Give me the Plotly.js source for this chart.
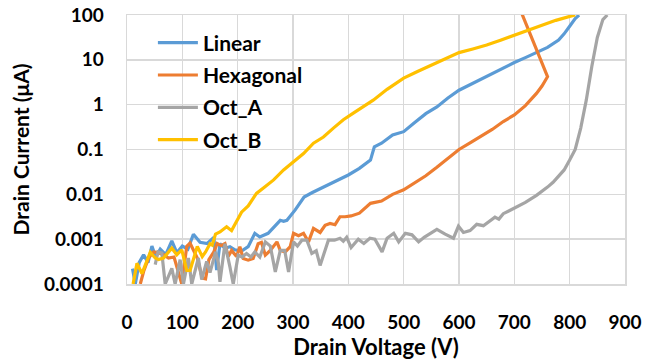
<!DOCTYPE html>
<html>
<head>
<meta charset="utf-8">
<script src="https://cdn.plot.ly/plotly-3.0.1.min.js"></script>
<style>html,body{margin:0;padding:0;background:#fff;}#chart{width:646px;height:363px;}</style>
</head>
<body>
<div id="chart"></div>
<script>
const seriesNames = ['Linear', 'Hexagonal', 'Oct_A', 'Oct_B'];

const linearV = [10,15,22,30,38,45,52,60,70,81,90,100,110,120,132,145,157,162,168,177,186,195,207,219,231,240,255,268,277,283,289,304,320,335,350,365,380,400,420,440,447,460,480,500,520,540,560,580,600,620,640,660,680,700,720,740,760,780,790,800,810,817];
const linearI = [0.00022,0.0001,0.0003,0.00045,0.0003,0.0007,0.0004,0.0006,0.00045,0.00091,0.0005,0.0007,0.0006,0.00129,0.00085,0.0008,0.0011,0.000204,0.00079,0.00063,0.00068,0.00058,0.00054,0.00068,0.00135,0.00112,0.00135,0.00204,0.00263,0.0025,0.00263,0.0045,0.0087,0.011,0.0135,0.017,0.021,0.027,0.038,0.058,0.115,0.138,0.21,0.25,0.4,0.63,0.89,1.41,2.1,2.8,3.7,5.0,6.6,8.7,11.2,14.8,19,27.5,38,56,83,100];

const hexV = [24,30,39,48,57,66,75,85,99,108,114,127,136,142,148,157,163,170,177,183,189,198,204,210,219,228,237,243,250,259,271,277,286,295,301,310,319,328,337,349,358,367,376,385,394,405,420,440,460,480,500,520,540,560,580,600,620,640,660,680,700,720,740,750,760,712];
const hexI = [0.0001,0.00019,0.00038,0.00052,0.0005,0.00045,0.00038,0.0004,0.0001,0.00069,0.00081,0.00038,0.000135,0.00013,0.00035,0.00052,0.0008,0.00072,0.0008,0.00041,0.00056,0.00041,0.00068,0.00037,0.00034,0.00037,0.00079,0.00085,0.00044,0.00056,0.00087,0.00056,0.00052,0.00068,0.00135,0.0012,0.00135,0.00087,0.00174,0.00141,0.00204,0.00224,0.0021,0.00316,0.00316,0.0033,0.0038,0.0063,0.0071,0.01,0.0126,0.0178,0.026,0.04,0.063,0.1,0.141,0.2,0.28,0.42,0.59,0.95,1.78,2.6,4.2,120];

const octAV = [51,56,63,69,81,87,96,102,111,117,129,135,144,150,160,165,168,177,186,192,201,208,216,224,231,240,250,259,268,277,285,292,301,308,316,325,334,342,349,358,364,375,385,391,397,405,418,428,439,448,461,470,482,491,503,515,527,537,548,560,575,590,599,608,620,632,644,656,665,672,680,689,700,720,740,750,760,770,780,790,800,810,820,830,840,850,860,868];
const octAI = [0.00027,0.00052,0.00049,0.0001,0.000224,0.0001,0.00035,0.0001,0.00038,0.0001,0.00038,0.000126,0.00032,0.00018,0.00052,0.0003,0.000112,0.00079,0.00024,0.0001,0.00044,0.0004,0.00048,0.0004,0.00052,0.0004,0.00087,0.0007,0.000186,0.00056,0.00056,0.000186,0.00087,0.0007,0.00095,0.00095,0.00048,0.00055,0.00026,0.0006,0.00095,0.00095,0.00105,0.0009,0.0011,0.00065,0.001,0.0008,0.00105,0.001,0.00052,0.00105,0.00135,0.00087,0.00135,0.00125,0.00087,0.0011,0.00135,0.00166,0.0013,0.00105,0.00195,0.00141,0.00155,0.00214,0.002,0.00257,0.0031,0.0028,0.0037,0.0042,0.0049,0.0066,0.0095,0.0115,0.0145,0.0186,0.025,0.035,0.058,0.1,0.3,1.26,7.1,31.6,79,100];

const octBV = [11,18,27,42,51,57,66,81,90,99,108,114,127,136,142,150,154,160,168,180,189,198,207,219,234,250,265,283,301,319,337,355,373,391,409,427,445,470,500,525,550,575,600,625,650,675,700,725,750,775,800,810];
const octBI = [0.0001,0.00029,0.00017,0.00051,0.00038,0.00035,0.00038,0.00063,0.00045,0.00058,0.0002,0.0002,0.00069,0.00041,0.00052,0.00079,0.00074,0.0013,0.00145,0.0019,0.00155,0.00245,0.004,0.0055,0.0105,0.015,0.021,0.035,0.054,0.081,0.138,0.19,0.3,0.46,0.65,0.89,1.26,2.2,3.9,5.5,7.6,10.5,14.5,17.5,21.4,27.5,35.5,45,60,76,93,100];

const xTicks = [0,100,200,300,400,500,600,700,800,900];
const yTicks = [0.0001,0.001,0.01,0.1,1,10,100];
const yTickText = ['0.0001','0.001','0.01','0.1','1','10','100'];

const colors = ['#5B9BD5','#ED7D31','#A5A5A5','#FFC000'];
const xs = [linearV, hexV, octAV, octBV];
const ys = [linearI, hexI, octAI, octBI];

const FONT = 'Lato, "Open Sans", sans-serif';

const traces = seriesNames.map((n, i) => ({
  type: 'scatter', mode: 'lines', name: n,
  x: xs[i], y: ys[i],
  line: {color: colors[i], width: 3.2},
  legendgroup: 'g' + i
}));

const layout = {
  width: 646, height: 363,
  margin: {l: 127, r: 21, t: 15, b: 79},
  paper_bgcolor: '#fff', plot_bgcolor: '#fff',
  font: {family: FONT, color: '#000', size: 19, weight: 'bold'},
  showlegend: true,
  legend: {
    x: 0.052, y: 0.972, xanchor: 'left', yanchor: 'top',
    bgcolor: 'rgba(255,255,255,0)',
    itemwidth: 40,
    font: {family: FONT, size: 21, color: '#000', weight: 'bold'},
    tracegroupgap: 2, traceorder: 'grouped'
  },
  xaxis: {
    range: [0, 900], tickvals: xTicks, ticks: '',
    showgrid: true, gridcolor: '#D9D9D9', gridwidth: 1.5,
    showline: true, linecolor: '#D9D9D9', linewidth: 1.5, mirror: true,
    zeroline: false, ticklabelstandoff: 21,
    tickfont: {family: FONT, size: 19, color: '#000', weight: 'bold'},
    title: {text: 'Drain Voltage (V)', font: {family: FONT, size: 22, color: '#000', weight: 'bold'}, standoff: 3}
  },
  yaxis: {
    type: 'log', range: [-4, 2], tickvals: yTicks, ticktext: yTickText, ticks: '',
    showgrid: true, gridcolor: '#D9D9D9', gridwidth: 1.5,
    showline: true, linecolor: '#D9D9D9', linewidth: 1.5, mirror: true,
    zeroline: false, ticklabelstandoff: 18,
    tickfont: {family: FONT, size: 19, color: '#000', weight: 'bold'},
    title: {text: 'Drain Current (μA)', font: {family: FONT, size: 21, color: '#000', weight: 'bold'}, standoff: 8}
  }
};

Plotly.newPlot('chart', traces, layout, {displayModeBar: false, staticPlot: true});
</script>
</body>
</html>
